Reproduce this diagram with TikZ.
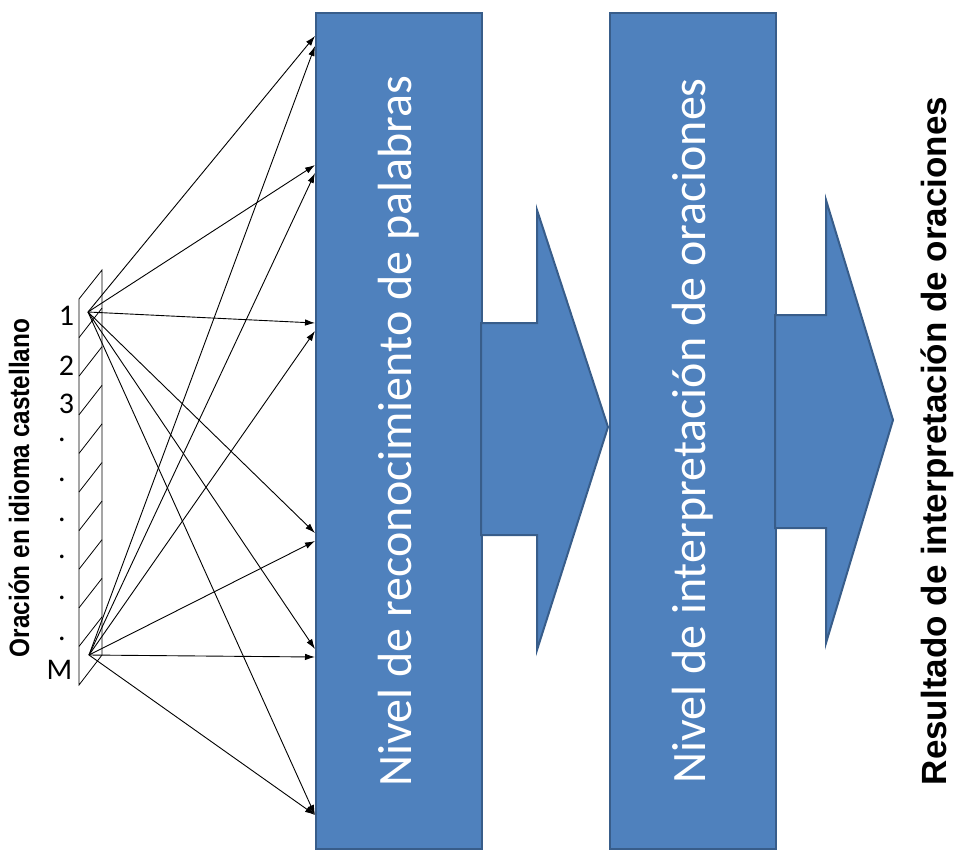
\documentclass[tikz,border=0pt]{standalone}
\usepackage{fontspec}
\setmainfont{Carlito}
\newfontfamily\arialfont{Liberation Sans}
\usetikzlibrary{arrows.meta}
\definecolor{boxblue}{HTML}{4F81BD}
\definecolor{boxedge}{HTML}{385D8A}
\begin{document}
\begin{tikzpicture}[x=1pt,y=-1pt,
  blk/.style={fill=boxblue, draw=boxedge, line width=2pt},
  levelbox/.style={blk, minimum width=166pt, minimum height=836pt, inner sep=0pt},
  lvl/.style={rotate=90, text=white, font=\fontsize{48}{50}\selectfont},
  conn/.style={draw=black, line width=0.9pt, -{Latex[length=10pt,width=6.5pt]}},
  num/.style={font=\fontsize{30}{32}\selectfont, inner sep=0pt},
  bar/.style={draw=black, line width=0.8pt},
]
\useasboundingbox (0,0) rectangle (955,852);
% hatched input bar
\draw[bar] (79,299) -- (102,270) -- (102,655) -- (79,685) -- cycle;
\foreach \k in {1,...,9} \draw[bar] (79,{299+\k*38.6}) -- ++(23,-29.5);
% level boxes
\node[levelbox] (b1) at (399,431) {};
\node[levelbox] (b2) at (693,431) {};
% block arrows
\draw[blk] (481,323) -- (537,323) -- (537,210) -- (608,427) -- (537,650) -- (537,535) -- (481,535) -- cycle;
\draw[blk] (775,315) -- (826,315) -- (826,200) -- (893,420) -- (826,643) -- (826,528) -- (775,528) -- cycle;
% texts
\node[lvl] (t1) at (b1.center) {Nivel de reconocimiento de palabras};
\node[lvl] (t2) at (b2.center) {Nivel de interpretación de oraciones};
\node[rotate=90, font=\arialfont\bfseries\fontsize{35}{37}\selectfont] (res) at (937,441) {Resultado de interpretación de oraciones};
\node[rotate=90, font=\arialfont\bfseries\fontsize{28}{30}\selectfont] (ora) at (19,488) {\scalebox{0.87}[1]{Oración en idioma castellano}};
% numbering
\node[num] (n1) at (66.5,316) {1};
\node[num] (n2) at (66.5,366) {2};
\node[num] (n3) at (66.5,403.5) {3};
\node[num] (d1) at (62,440) {.};
\node[num] (d2) at (62,480) {.};
\node[num] (d3) at (62,520) {.};
\node[num] (d4) at (62,557) {.};
\node[num] (d5) at (62,598) {.};
\node[num] (d6) at (62,639) {.};
\node[num] (nM) at (59.5,670) {M};
% sources and targets
\coordinate (s1) at (88,312);
\coordinate (sM) at (89,655);
\coordinate (e1a) at (315,36);
\coordinate (e1b) at (315,46);
\coordinate (e2a) at (315,165);
\coordinate (e2b) at (315,173);
\coordinate (e3a) at (315,323);
\coordinate (e3b) at (315,331);
\coordinate (e4a) at (315,533);
\coordinate (e4b) at (315,541);
\coordinate (e5a) at (315,649);
\coordinate (e5b) at (315,657);
\coordinate (e6) at (315,815);
% connectors
\draw[conn] (s1) -- (e1a);
\draw[conn] (s1) -- (e2a);
\draw[conn] (s1) -- (e3a);
\draw[conn] (s1) -- (e4a);
\draw[conn] (s1) -- (e5a);
\draw[conn] (s1) -- (e6);
\draw[conn] (sM) -- (e1b);
\draw[conn] (sM) -- (e2b);
\draw[conn] (sM) -- (e3b);
\draw[conn] (sM) -- (e4b);
\draw[conn] (sM) -- (e5b);
\draw[conn] (sM) -- (e6);
\end{tikzpicture}
\end{document}
